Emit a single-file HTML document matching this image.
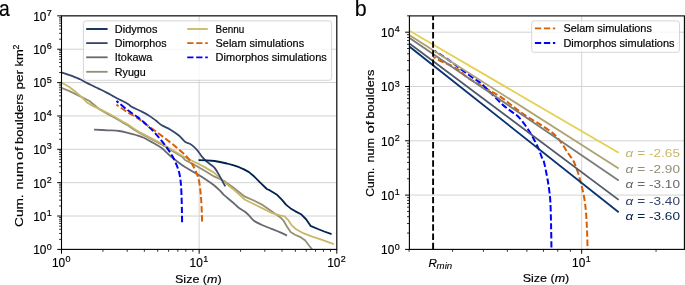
<!DOCTYPE html>
<html><head><meta charset="utf-8"><title>Boulder size-frequency distributions</title>
<style>
html,body{margin:0;padding:0;background:#fff;}
body{width:685px;height:285px;overflow:hidden;font-family:"Liberation Sans", sans-serif;}
svg{display:block;will-change:transform;}
.txt text{stroke-width:0.18px;}
</style></head><body>
<svg width="685" height="285" viewBox="0 0 685 285" font-family='"Liberation Sans", sans-serif'>
<defs><clipPath id="ca"><rect x="61.50" y="15.85" width="275.30" height="233.55"/></clipPath><clipPath id="cb"><rect x="409.40" y="15.90" width="275.00" height="233.50"/></clipPath></defs>
<rect x="0" y="0" width="685" height="285" fill="#fff"/>
<g class="gfx">
<line x1="61.50" y1="249.40" x2="336.80" y2="249.40" stroke="#d3d3d3" stroke-width="1.00"/>
<line x1="61.50" y1="216.04" x2="336.80" y2="216.04" stroke="#d3d3d3" stroke-width="1.00"/>
<line x1="61.50" y1="182.67" x2="336.80" y2="182.67" stroke="#d3d3d3" stroke-width="1.00"/>
<line x1="61.50" y1="149.31" x2="336.80" y2="149.31" stroke="#d3d3d3" stroke-width="1.00"/>
<line x1="61.50" y1="115.94" x2="336.80" y2="115.94" stroke="#d3d3d3" stroke-width="1.00"/>
<line x1="61.50" y1="82.58" x2="336.80" y2="82.58" stroke="#d3d3d3" stroke-width="1.00"/>
<line x1="61.50" y1="49.21" x2="336.80" y2="49.21" stroke="#d3d3d3" stroke-width="1.00"/>
<line x1="61.50" y1="15.85" x2="336.80" y2="15.85" stroke="#d3d3d3" stroke-width="1.00"/>
<line x1="61.50" y1="15.85" x2="61.50" y2="249.40" stroke="#d3d3d3" stroke-width="1.00"/>
<line x1="199.15" y1="15.85" x2="199.15" y2="249.40" stroke="#d3d3d3" stroke-width="1.00"/>
<line x1="336.80" y1="15.85" x2="336.80" y2="249.40" stroke="#d3d3d3" stroke-width="1.00"/>
<path d="M94.00,129.60 C96.33,129.72 103.78,130.07 108.00,130.30 C112.22,130.53 116.02,130.58 119.30,131.00 C122.58,131.42 124.90,132.13 127.70,132.80 C130.50,133.47 133.42,134.18 136.10,135.00 C138.78,135.82 141.07,136.45 143.80,137.70 C146.53,138.95 149.58,140.82 152.50,142.50 C155.42,144.18 158.37,145.60 161.30,147.80 C164.23,150.00 167.17,153.22 170.10,155.70 C173.03,158.18 176.42,160.82 178.90,162.70 C181.38,164.58 182.37,165.35 185.00,167.00 C187.63,168.65 191.48,170.70 194.70,172.60 C197.92,174.50 201.08,176.30 204.30,178.40 C207.52,180.50 211.43,183.20 214.00,185.20 C216.57,187.20 218.07,188.80 219.70,190.40 C221.33,192.00 221.65,192.83 223.80,194.80 C225.95,196.77 230.17,200.08 232.60,202.20 C235.03,204.32 236.33,205.90 238.40,207.50 C240.47,209.10 243.10,210.33 245.00,211.80 C246.90,213.27 248.30,214.80 249.80,216.30 C251.30,217.80 251.97,219.35 254.00,220.80 C256.03,222.25 259.08,223.67 262.00,225.00 C264.92,226.33 268.45,227.57 271.50,228.80 C274.55,230.03 277.72,231.27 280.30,232.40 C282.88,233.53 285.88,235.07 287.00,235.60" fill="none" stroke="#666970" stroke-width="1.80" stroke-linejoin="round" clip-path="url(#ca)"/>
<polyline points="61.3,87.8 69.0,90.9 76.1,94.4 81.7,97.1 89.5,101.0 99.0,109.0 108.0,114.2 115.0,117.9 122.0,122.1 128.0,125.5 133.3,129.2 140.0,133.3 150.5,138.8 161.0,144.1 171.6,150.4 182.1,156.7 185.0,160.0 194.7,164.9 204.3,170.6 214.0,176.4 223.8,180.8 232.6,187.0 241.4,194.0 245.0,196.7 253.8,200.5 262.5,204.9 271.3,211.1 280.1,217.2 283.6,220.7 287.1,226.8 290.6,232.1 295.0,234.7 301.0,237.4 305.3,240.5 308.4,244.7 312.6,250.0 315.0,253.0" fill="none" stroke="#948e77" stroke-width="1.80" stroke-linejoin="round" clip-path="url(#ca)"/>
<polyline points="61.3,82.5 69.0,86.7 76.1,92.3 81.7,97.1 87.2,102.6 94.3,106.6 101.0,109.6 108.0,113.3 115.0,117.0 122.0,121.2 128.0,124.6 133.3,128.3 140.0,132.4 150.5,137.9 161.0,143.2 171.6,149.5 182.1,155.8 194.7,162.0 204.3,166.9 214.0,172.6 223.8,181.7 232.6,188.7 241.4,196.5 245.0,199.8 253.8,204.0 262.5,208.4 271.3,212.8 280.1,215.4 284.5,216.3 288.0,219.8 291.5,225.1 295.8,229.0 303.2,233.2 311.6,236.3 322.1,239.9 333.8,244.1" fill="none" stroke="#c8b866" stroke-width="1.80" stroke-linejoin="round" clip-path="url(#ca)"/>
<path d="M61.30,72.30 C62.83,72.82 68.08,74.53 70.50,75.40 C72.92,76.27 74.03,76.77 75.80,77.50 C77.57,78.23 79.35,78.95 81.10,79.80 C82.85,80.65 84.55,81.68 86.30,82.60 C88.05,83.52 89.85,84.43 91.60,85.30 C93.35,86.17 95.40,87.13 96.80,87.80 C98.20,88.47 98.28,88.45 100.00,89.30 C101.72,90.15 104.93,91.77 107.10,92.90 C109.27,94.03 110.95,95.00 113.00,96.10 C115.05,97.20 116.90,98.20 119.40,99.50 C121.90,100.80 125.97,102.68 128.00,103.90 C130.03,105.12 129.60,105.65 131.60,106.80 C133.60,107.95 137.20,109.40 140.00,110.80 C142.80,112.20 145.77,113.58 148.40,115.20 C151.03,116.82 153.65,118.87 155.80,120.50 C157.95,122.13 158.92,123.52 161.30,125.00 C163.68,126.48 167.17,127.65 170.10,129.40 C173.03,131.15 176.42,133.45 178.90,135.50 C181.38,137.55 183.18,140.33 185.00,141.70 C186.82,143.07 188.35,142.88 189.80,143.70 C191.25,144.52 192.57,145.63 193.70,146.60 C194.83,147.57 195.63,148.38 196.60,149.50 C197.57,150.62 198.53,152.02 199.50,153.30 C200.47,154.58 201.28,155.90 202.40,157.20 C203.52,158.50 204.92,159.93 206.20,161.10 C207.48,162.27 208.70,163.08 210.10,164.20 C211.50,165.32 213.23,166.23 214.60,167.80 C215.97,169.37 217.07,171.50 218.30,173.60 C219.53,175.70 220.83,178.27 222.00,180.40 C223.17,182.53 224.75,185.40 225.30,186.40" fill="none" stroke="#35456c" stroke-width="1.80" stroke-linejoin="round" clip-path="url(#ca)"/>
<polyline points="198.5,160.2 207.0,160.3 214.6,161.0 220.0,162.0 226.9,163.5 233.0,165.2 239.1,167.2 244.0,169.4 249.0,172.1 254.5,176.8 260.0,182.4 266.8,189.0 270.0,190.4 276.6,194.4 281.8,199.6 286.2,204.9 290.6,208.4 295.0,211.1 301.0,214.2 306.3,219.5 310.5,225.8 317.9,229.0 324.2,231.5 331.6,234.2" fill="none" stroke="#00224e" stroke-width="1.80" stroke-linejoin="round" clip-path="url(#ca)"/>
<path d="M116.40,104.70 C118.23,105.93 123.82,109.82 127.40,112.10 C130.98,114.38 134.43,116.10 137.90,118.40 C141.37,120.70 144.88,123.48 148.20,125.90 C151.52,128.32 154.73,130.63 157.80,132.90 C160.87,135.17 163.67,137.23 166.60,139.50 C169.53,141.77 172.77,144.33 175.40,146.50 C178.03,148.67 180.63,150.92 182.40,152.50 C184.17,154.08 184.60,154.42 186.00,156.00 C187.40,157.58 189.47,160.08 190.80,162.00 C192.13,163.92 193.00,165.55 194.00,167.50 C195.00,169.45 196.00,171.62 196.80,173.70 C197.60,175.78 198.27,177.78 198.80,180.00 C199.33,182.22 199.70,184.83 200.00,187.00 C200.30,189.17 200.40,190.83 200.60,193.00 C200.80,195.17 201.00,196.83 201.20,200.00 C201.40,203.17 201.65,208.23 201.80,212.00 C201.95,215.77 202.05,220.83 202.10,222.60" fill="none" stroke="#d95f02" stroke-width="2.00" stroke-linejoin="round" stroke-dasharray="6.3,2.7" stroke-dashoffset="3.6" clip-path="url(#ca)"/>
<path d="M116.40,100.90 C118.23,102.42 123.82,107.25 127.40,110.00 C130.98,112.75 134.58,114.82 137.90,117.40 C141.22,119.98 144.57,123.02 147.30,125.50 C150.03,127.98 152.02,129.87 154.30,132.30 C156.58,134.73 158.88,137.52 161.00,140.10 C163.12,142.68 165.07,145.05 167.00,147.80 C168.93,150.55 170.97,153.65 172.60,156.60 C174.23,159.55 175.65,162.60 176.80,165.50 C177.95,168.40 178.83,171.08 179.50,174.00 C180.17,176.92 180.47,179.50 180.80,183.00 C181.13,186.50 181.32,190.50 181.50,195.00 C181.68,199.50 181.80,205.40 181.90,210.00 C182.00,214.60 182.07,220.50 182.10,222.60" fill="none" stroke="#0000ff" stroke-width="2.00" stroke-linejoin="round" stroke-dasharray="6.3,2.7" stroke-dashoffset="3.6" clip-path="url(#ca)"/>
<rect x="83.40" y="20.90" width="248.20" height="59.40" rx="2.5" ry="2.5" fill="#fff" fill-opacity="0.8" stroke="#cccccc" stroke-opacity="0.8" stroke-width="1"/>
<line x1="86.20" y1="29.00" x2="107.60" y2="29.00" stroke="#00224e" stroke-width="1.80"/>
<line x1="86.20" y1="43.10" x2="107.60" y2="43.10" stroke="#35456c" stroke-width="1.80"/>
<line x1="86.20" y1="57.30" x2="107.60" y2="57.30" stroke="#666970" stroke-width="1.80"/>
<line x1="86.20" y1="71.80" x2="107.60" y2="71.80" stroke="#948e77" stroke-width="1.80"/>
<line x1="187.20" y1="29.00" x2="207.80" y2="29.00" stroke="#c8b866" stroke-width="1.80"/>
<line x1="187.2" y1="43.10" x2="207.8" y2="43.10" stroke="#d95f02" stroke-width="1.80" stroke-dasharray="6.3,2.7"/>
<line x1="187.2" y1="57.30" x2="207.8" y2="57.30" stroke="#0000ff" stroke-width="1.80" stroke-dasharray="6.3,2.7"/>
<line x1="409.40" y1="249.40" x2="684.40" y2="249.40" stroke="#d3d3d3" stroke-width="1.00"/>
<line x1="409.40" y1="195.10" x2="684.40" y2="195.10" stroke="#d3d3d3" stroke-width="1.00"/>
<line x1="409.40" y1="140.80" x2="684.40" y2="140.80" stroke="#d3d3d3" stroke-width="1.00"/>
<line x1="409.40" y1="86.50" x2="684.40" y2="86.50" stroke="#d3d3d3" stroke-width="1.00"/>
<line x1="409.40" y1="32.20" x2="684.40" y2="32.20" stroke="#d3d3d3" stroke-width="1.00"/>
<line x1="581.70" y1="15.90" x2="581.70" y2="249.40" stroke="#d3d3d3" stroke-width="1.00"/>
<g clip-path="url(#cb)">
<path d="M433.30,57.10 C433.80,57.32 435.10,57.75 436.30,58.40 C437.50,59.05 438.92,60.20 440.50,61.00 C442.08,61.80 444.05,62.45 445.80,63.20 C447.55,63.95 449.25,64.62 451.00,65.50 C452.75,66.38 454.80,67.62 456.30,68.50 C457.80,69.38 458.20,69.33 460.00,70.80 C461.80,72.27 464.45,75.32 467.10,77.30 C469.75,79.28 473.42,81.22 475.90,82.70 C478.38,84.18 479.38,84.72 482.00,86.20 C484.62,87.68 488.25,89.65 491.60,91.60 C494.95,93.55 498.87,95.70 502.10,97.90 C505.33,100.10 507.93,102.45 511.00,104.80 C514.07,107.15 517.17,109.63 520.50,112.00 C523.83,114.37 527.48,116.78 531.00,119.00 C534.52,121.22 538.08,123.03 541.60,125.30 C545.12,127.57 549.30,130.33 552.10,132.60 C554.90,134.87 556.47,136.62 558.40,138.90 C560.33,141.18 562.12,143.95 563.70,146.30 C565.28,148.65 566.32,150.63 567.90,153.00 C569.48,155.37 571.62,157.50 573.20,160.50 C574.78,163.50 576.18,167.48 577.40,171.00 C578.62,174.52 579.45,177.60 580.50,181.60 C581.55,185.60 582.87,190.77 583.70,195.00 C584.53,199.23 585.03,202.83 585.50,207.00 C585.97,211.17 586.22,215.33 586.50,220.00 C586.78,224.67 587.02,229.67 587.20,235.00 C587.38,240.33 587.53,249.17 587.60,252.00" fill="none" stroke="#d95f02" stroke-width="2.00" stroke-linejoin="round" stroke-dasharray="6.3,2.7" stroke-dashoffset="3.6"/>
<path d="M434.30,50.60 C435.33,51.27 438.58,53.37 440.50,54.60 C442.42,55.83 444.05,56.80 445.80,58.00 C447.55,59.20 449.25,60.53 451.00,61.80 C452.75,63.07 454.80,64.47 456.30,65.60 C457.80,66.73 458.22,67.28 460.00,68.60 C461.78,69.92 464.67,71.83 467.00,73.50 C469.33,75.17 471.67,76.97 474.00,78.60 C476.33,80.23 478.07,80.78 481.00,83.30 C483.93,85.82 488.08,90.22 491.60,93.70 C495.12,97.18 499.03,101.40 502.10,104.20 C505.17,107.00 507.28,108.40 510.00,110.50 C512.72,112.60 515.60,113.98 518.40,116.80 C521.20,119.62 524.33,123.88 526.80,127.40 C529.27,130.92 531.27,134.40 533.20,137.90 C535.13,141.40 537.00,145.25 538.40,148.40 C539.80,151.55 540.72,154.70 541.60,156.80 C542.48,158.90 542.83,157.92 543.70,161.00 C544.57,164.08 545.93,170.82 546.80,175.30 C547.67,179.78 548.30,183.35 548.90,187.90 C549.50,192.45 550.03,196.15 550.40,202.60 C550.77,209.05 550.92,218.37 551.10,226.60 C551.28,234.83 551.43,247.77 551.50,252.00" fill="none" stroke="#0000ff" stroke-width="2.00" stroke-linejoin="round" stroke-dasharray="6.3,2.7" stroke-dashoffset="3.6"/>
<polyline points="407.4,29.6 618.7,152.7" fill="none" stroke="#e5cf52" stroke-width="1.80" stroke-linejoin="round"/>
<polyline points="407.4,33.8 618.7,168.5" fill="none" stroke="#aea371" stroke-width="1.80" stroke-linejoin="round"/>
<polyline points="407.4,36.5 618.7,180.5" fill="none" stroke="#7d7c78" stroke-width="1.80" stroke-linejoin="round"/>
<polyline points="407.4,42.0 618.7,199.9" fill="none" stroke="#4f576c" stroke-width="1.80" stroke-linejoin="round"/>
<polyline points="407.4,45.0 618.7,212.2" fill="none" stroke="#083370" stroke-width="1.80" stroke-linejoin="round"/>
<line x1="433.10" y1="15.90" x2="433.10" y2="249.40" stroke="#000" stroke-width="1.90" stroke-dasharray="6.46,2.7" stroke-dashoffset="2.21"/>
</g>
<rect x="531.70" y="20.90" width="147.80" height="31.40" rx="2.5" ry="2.5" fill="#fff" fill-opacity="0.8" stroke="#cccccc" stroke-opacity="0.8" stroke-width="1"/>
<line x1="534.9" y1="28.40" x2="555.2" y2="28.40" stroke="#d95f02" stroke-width="1.80" stroke-dasharray="6.3,2.7"/>
<line x1="534.9" y1="43.00" x2="555.2" y2="43.00" stroke="#0000ff" stroke-width="1.80" stroke-dasharray="6.3,2.7"/>
<rect x="61.50" y="15.85" width="275.30" height="233.55" fill="none" stroke="#000" stroke-width="1.10"/>
<line x1="57.20" y1="249.40" x2="61.50" y2="249.40" stroke="#000" stroke-width="1.00"/>
<line x1="59.10" y1="239.36" x2="61.50" y2="239.36" stroke="#000" stroke-width="0.80"/>
<line x1="59.10" y1="233.48" x2="61.50" y2="233.48" stroke="#000" stroke-width="0.80"/>
<line x1="59.10" y1="229.31" x2="61.50" y2="229.31" stroke="#000" stroke-width="0.80"/>
<line x1="59.10" y1="226.08" x2="61.50" y2="226.08" stroke="#000" stroke-width="0.80"/>
<line x1="59.10" y1="223.44" x2="61.50" y2="223.44" stroke="#000" stroke-width="0.80"/>
<line x1="59.10" y1="221.20" x2="61.50" y2="221.20" stroke="#000" stroke-width="0.80"/>
<line x1="59.10" y1="219.27" x2="61.50" y2="219.27" stroke="#000" stroke-width="0.80"/>
<line x1="59.10" y1="217.56" x2="61.50" y2="217.56" stroke="#000" stroke-width="0.80"/>
<line x1="57.20" y1="216.04" x2="61.50" y2="216.04" stroke="#000" stroke-width="1.00"/>
<line x1="59.10" y1="205.99" x2="61.50" y2="205.99" stroke="#000" stroke-width="0.80"/>
<line x1="59.10" y1="200.12" x2="61.50" y2="200.12" stroke="#000" stroke-width="0.80"/>
<line x1="59.10" y1="195.95" x2="61.50" y2="195.95" stroke="#000" stroke-width="0.80"/>
<line x1="59.10" y1="192.72" x2="61.50" y2="192.72" stroke="#000" stroke-width="0.80"/>
<line x1="59.10" y1="190.07" x2="61.50" y2="190.07" stroke="#000" stroke-width="0.80"/>
<line x1="59.10" y1="187.84" x2="61.50" y2="187.84" stroke="#000" stroke-width="0.80"/>
<line x1="59.10" y1="185.90" x2="61.50" y2="185.90" stroke="#000" stroke-width="0.80"/>
<line x1="59.10" y1="184.20" x2="61.50" y2="184.20" stroke="#000" stroke-width="0.80"/>
<line x1="57.20" y1="182.67" x2="61.50" y2="182.67" stroke="#000" stroke-width="1.00"/>
<line x1="59.10" y1="172.63" x2="61.50" y2="172.63" stroke="#000" stroke-width="0.80"/>
<line x1="59.10" y1="166.75" x2="61.50" y2="166.75" stroke="#000" stroke-width="0.80"/>
<line x1="59.10" y1="162.58" x2="61.50" y2="162.58" stroke="#000" stroke-width="0.80"/>
<line x1="59.10" y1="159.35" x2="61.50" y2="159.35" stroke="#000" stroke-width="0.80"/>
<line x1="59.10" y1="156.71" x2="61.50" y2="156.71" stroke="#000" stroke-width="0.80"/>
<line x1="59.10" y1="154.48" x2="61.50" y2="154.48" stroke="#000" stroke-width="0.80"/>
<line x1="59.10" y1="152.54" x2="61.50" y2="152.54" stroke="#000" stroke-width="0.80"/>
<line x1="59.10" y1="150.83" x2="61.50" y2="150.83" stroke="#000" stroke-width="0.80"/>
<line x1="57.20" y1="149.31" x2="61.50" y2="149.31" stroke="#000" stroke-width="1.00"/>
<line x1="59.10" y1="139.26" x2="61.50" y2="139.26" stroke="#000" stroke-width="0.80"/>
<line x1="59.10" y1="133.39" x2="61.50" y2="133.39" stroke="#000" stroke-width="0.80"/>
<line x1="59.10" y1="129.22" x2="61.50" y2="129.22" stroke="#000" stroke-width="0.80"/>
<line x1="59.10" y1="125.99" x2="61.50" y2="125.99" stroke="#000" stroke-width="0.80"/>
<line x1="59.10" y1="123.34" x2="61.50" y2="123.34" stroke="#000" stroke-width="0.80"/>
<line x1="59.10" y1="121.11" x2="61.50" y2="121.11" stroke="#000" stroke-width="0.80"/>
<line x1="59.10" y1="119.18" x2="61.50" y2="119.18" stroke="#000" stroke-width="0.80"/>
<line x1="59.10" y1="117.47" x2="61.50" y2="117.47" stroke="#000" stroke-width="0.80"/>
<line x1="57.20" y1="115.94" x2="61.50" y2="115.94" stroke="#000" stroke-width="1.00"/>
<line x1="59.10" y1="105.90" x2="61.50" y2="105.90" stroke="#000" stroke-width="0.80"/>
<line x1="59.10" y1="100.02" x2="61.50" y2="100.02" stroke="#000" stroke-width="0.80"/>
<line x1="59.10" y1="95.86" x2="61.50" y2="95.86" stroke="#000" stroke-width="0.80"/>
<line x1="59.10" y1="92.62" x2="61.50" y2="92.62" stroke="#000" stroke-width="0.80"/>
<line x1="59.10" y1="89.98" x2="61.50" y2="89.98" stroke="#000" stroke-width="0.80"/>
<line x1="59.10" y1="87.75" x2="61.50" y2="87.75" stroke="#000" stroke-width="0.80"/>
<line x1="59.10" y1="85.81" x2="61.50" y2="85.81" stroke="#000" stroke-width="0.80"/>
<line x1="59.10" y1="84.11" x2="61.50" y2="84.11" stroke="#000" stroke-width="0.80"/>
<line x1="57.20" y1="82.58" x2="61.50" y2="82.58" stroke="#000" stroke-width="1.00"/>
<line x1="59.10" y1="72.53" x2="61.50" y2="72.53" stroke="#000" stroke-width="0.80"/>
<line x1="59.10" y1="66.66" x2="61.50" y2="66.66" stroke="#000" stroke-width="0.80"/>
<line x1="59.10" y1="62.49" x2="61.50" y2="62.49" stroke="#000" stroke-width="0.80"/>
<line x1="59.10" y1="59.26" x2="61.50" y2="59.26" stroke="#000" stroke-width="0.80"/>
<line x1="59.10" y1="56.62" x2="61.50" y2="56.62" stroke="#000" stroke-width="0.80"/>
<line x1="59.10" y1="54.38" x2="61.50" y2="54.38" stroke="#000" stroke-width="0.80"/>
<line x1="59.10" y1="52.45" x2="61.50" y2="52.45" stroke="#000" stroke-width="0.80"/>
<line x1="59.10" y1="50.74" x2="61.50" y2="50.74" stroke="#000" stroke-width="0.80"/>
<line x1="57.20" y1="49.21" x2="61.50" y2="49.21" stroke="#000" stroke-width="1.00"/>
<line x1="59.10" y1="39.17" x2="61.50" y2="39.17" stroke="#000" stroke-width="0.80"/>
<line x1="59.10" y1="33.30" x2="61.50" y2="33.30" stroke="#000" stroke-width="0.80"/>
<line x1="59.10" y1="29.13" x2="61.50" y2="29.13" stroke="#000" stroke-width="0.80"/>
<line x1="59.10" y1="25.89" x2="61.50" y2="25.89" stroke="#000" stroke-width="0.80"/>
<line x1="59.10" y1="23.25" x2="61.50" y2="23.25" stroke="#000" stroke-width="0.80"/>
<line x1="59.10" y1="21.02" x2="61.50" y2="21.02" stroke="#000" stroke-width="0.80"/>
<line x1="59.10" y1="19.08" x2="61.50" y2="19.08" stroke="#000" stroke-width="0.80"/>
<line x1="59.10" y1="17.38" x2="61.50" y2="17.38" stroke="#000" stroke-width="0.80"/>
<line x1="57.20" y1="15.85" x2="61.50" y2="15.85" stroke="#000" stroke-width="1.00"/>
<line x1="61.50" y1="249.40" x2="61.50" y2="253.70" stroke="#000" stroke-width="1.00"/>
<line x1="102.94" y1="249.40" x2="102.94" y2="251.80" stroke="#000" stroke-width="0.80"/>
<line x1="127.18" y1="249.40" x2="127.18" y2="251.80" stroke="#000" stroke-width="0.80"/>
<line x1="144.37" y1="249.40" x2="144.37" y2="251.80" stroke="#000" stroke-width="0.80"/>
<line x1="157.71" y1="249.40" x2="157.71" y2="251.80" stroke="#000" stroke-width="0.80"/>
<line x1="168.61" y1="249.40" x2="168.61" y2="251.80" stroke="#000" stroke-width="0.80"/>
<line x1="177.83" y1="249.40" x2="177.83" y2="251.80" stroke="#000" stroke-width="0.80"/>
<line x1="185.81" y1="249.40" x2="185.81" y2="251.80" stroke="#000" stroke-width="0.80"/>
<line x1="192.85" y1="249.40" x2="192.85" y2="251.80" stroke="#000" stroke-width="0.80"/>
<line x1="199.15" y1="249.40" x2="199.15" y2="253.70" stroke="#000" stroke-width="1.00"/>
<line x1="240.59" y1="249.40" x2="240.59" y2="251.80" stroke="#000" stroke-width="0.80"/>
<line x1="264.83" y1="249.40" x2="264.83" y2="251.80" stroke="#000" stroke-width="0.80"/>
<line x1="282.02" y1="249.40" x2="282.02" y2="251.80" stroke="#000" stroke-width="0.80"/>
<line x1="295.36" y1="249.40" x2="295.36" y2="251.80" stroke="#000" stroke-width="0.80"/>
<line x1="306.26" y1="249.40" x2="306.26" y2="251.80" stroke="#000" stroke-width="0.80"/>
<line x1="315.48" y1="249.40" x2="315.48" y2="251.80" stroke="#000" stroke-width="0.80"/>
<line x1="323.46" y1="249.40" x2="323.46" y2="251.80" stroke="#000" stroke-width="0.80"/>
<line x1="330.50" y1="249.40" x2="330.50" y2="251.80" stroke="#000" stroke-width="0.80"/>
<line x1="336.80" y1="249.40" x2="336.80" y2="253.70" stroke="#000" stroke-width="1.00"/>
<rect x="409.40" y="15.90" width="275.00" height="233.50" fill="none" stroke="#000" stroke-width="1.10"/>
<line x1="405.10" y1="249.40" x2="409.40" y2="249.40" stroke="#000" stroke-width="1.00"/>
<line x1="407.00" y1="233.05" x2="409.40" y2="233.05" stroke="#000" stroke-width="0.80"/>
<line x1="407.00" y1="223.49" x2="409.40" y2="223.49" stroke="#000" stroke-width="0.80"/>
<line x1="407.00" y1="216.71" x2="409.40" y2="216.71" stroke="#000" stroke-width="0.80"/>
<line x1="407.00" y1="211.45" x2="409.40" y2="211.45" stroke="#000" stroke-width="0.80"/>
<line x1="407.00" y1="207.15" x2="409.40" y2="207.15" stroke="#000" stroke-width="0.80"/>
<line x1="407.00" y1="203.51" x2="409.40" y2="203.51" stroke="#000" stroke-width="0.80"/>
<line x1="407.00" y1="200.36" x2="409.40" y2="200.36" stroke="#000" stroke-width="0.80"/>
<line x1="407.00" y1="197.58" x2="409.40" y2="197.58" stroke="#000" stroke-width="0.80"/>
<line x1="405.10" y1="195.10" x2="409.40" y2="195.10" stroke="#000" stroke-width="1.00"/>
<line x1="407.00" y1="178.75" x2="409.40" y2="178.75" stroke="#000" stroke-width="0.80"/>
<line x1="407.00" y1="169.19" x2="409.40" y2="169.19" stroke="#000" stroke-width="0.80"/>
<line x1="407.00" y1="162.41" x2="409.40" y2="162.41" stroke="#000" stroke-width="0.80"/>
<line x1="407.00" y1="157.15" x2="409.40" y2="157.15" stroke="#000" stroke-width="0.80"/>
<line x1="407.00" y1="152.85" x2="409.40" y2="152.85" stroke="#000" stroke-width="0.80"/>
<line x1="407.00" y1="149.21" x2="409.40" y2="149.21" stroke="#000" stroke-width="0.80"/>
<line x1="407.00" y1="146.06" x2="409.40" y2="146.06" stroke="#000" stroke-width="0.80"/>
<line x1="407.00" y1="143.28" x2="409.40" y2="143.28" stroke="#000" stroke-width="0.80"/>
<line x1="405.10" y1="140.80" x2="409.40" y2="140.80" stroke="#000" stroke-width="1.00"/>
<line x1="407.00" y1="124.45" x2="409.40" y2="124.45" stroke="#000" stroke-width="0.80"/>
<line x1="407.00" y1="114.89" x2="409.40" y2="114.89" stroke="#000" stroke-width="0.80"/>
<line x1="407.00" y1="108.11" x2="409.40" y2="108.11" stroke="#000" stroke-width="0.80"/>
<line x1="407.00" y1="102.85" x2="409.40" y2="102.85" stroke="#000" stroke-width="0.80"/>
<line x1="407.00" y1="98.55" x2="409.40" y2="98.55" stroke="#000" stroke-width="0.80"/>
<line x1="407.00" y1="94.91" x2="409.40" y2="94.91" stroke="#000" stroke-width="0.80"/>
<line x1="407.00" y1="91.76" x2="409.40" y2="91.76" stroke="#000" stroke-width="0.80"/>
<line x1="407.00" y1="88.98" x2="409.40" y2="88.98" stroke="#000" stroke-width="0.80"/>
<line x1="405.10" y1="86.50" x2="409.40" y2="86.50" stroke="#000" stroke-width="1.00"/>
<line x1="407.00" y1="70.15" x2="409.40" y2="70.15" stroke="#000" stroke-width="0.80"/>
<line x1="407.00" y1="60.59" x2="409.40" y2="60.59" stroke="#000" stroke-width="0.80"/>
<line x1="407.00" y1="53.81" x2="409.40" y2="53.81" stroke="#000" stroke-width="0.80"/>
<line x1="407.00" y1="48.55" x2="409.40" y2="48.55" stroke="#000" stroke-width="0.80"/>
<line x1="407.00" y1="44.25" x2="409.40" y2="44.25" stroke="#000" stroke-width="0.80"/>
<line x1="407.00" y1="40.61" x2="409.40" y2="40.61" stroke="#000" stroke-width="0.80"/>
<line x1="407.00" y1="37.46" x2="409.40" y2="37.46" stroke="#000" stroke-width="0.80"/>
<line x1="407.00" y1="34.68" x2="409.40" y2="34.68" stroke="#000" stroke-width="0.80"/>
<line x1="405.10" y1="32.20" x2="409.40" y2="32.20" stroke="#000" stroke-width="1.00"/>
<line x1="407.00" y1="15.85" x2="409.40" y2="15.85" stroke="#000" stroke-width="0.80"/>
<line x1="581.70" y1="249.40" x2="581.70" y2="253.70" stroke="#000" stroke-width="1.00"/>
<line x1="409.05" y1="249.40" x2="409.05" y2="251.80" stroke="#000" stroke-width="0.80"/>
<line x1="452.55" y1="249.40" x2="452.55" y2="251.80" stroke="#000" stroke-width="0.80"/>
<line x1="483.41" y1="249.40" x2="483.41" y2="251.80" stroke="#000" stroke-width="0.80"/>
<line x1="507.35" y1="249.40" x2="507.35" y2="251.80" stroke="#000" stroke-width="0.80"/>
<line x1="526.90" y1="249.40" x2="526.90" y2="251.80" stroke="#000" stroke-width="0.80"/>
<line x1="543.44" y1="249.40" x2="543.44" y2="251.80" stroke="#000" stroke-width="0.80"/>
<line x1="557.76" y1="249.40" x2="557.76" y2="251.80" stroke="#000" stroke-width="0.80"/>
<line x1="570.40" y1="249.40" x2="570.40" y2="251.80" stroke="#000" stroke-width="0.80"/>
<line x1="656.05" y1="249.40" x2="656.05" y2="251.80" stroke="#000" stroke-width="0.80"/>
</g>
<g class="txt" stroke="#000">
<text x="33.20" y="254.30" font-size="12.20" fill="#000" stroke="#000" text-anchor="start" textLength="13.20" lengthAdjust="spacingAndGlyphs">10</text>
<text x="46.80" y="249.50" font-size="8.50" fill="#000" stroke="#000" text-anchor="start" textLength="5.00" lengthAdjust="spacingAndGlyphs">0</text>
<text x="33.20" y="220.94" font-size="12.20" fill="#000" stroke="#000" text-anchor="start" textLength="13.20" lengthAdjust="spacingAndGlyphs">10</text>
<text x="46.80" y="216.14" font-size="8.50" fill="#000" stroke="#000" text-anchor="start" textLength="5.00" lengthAdjust="spacingAndGlyphs">1</text>
<text x="33.20" y="187.57" font-size="12.20" fill="#000" stroke="#000" text-anchor="start" textLength="13.20" lengthAdjust="spacingAndGlyphs">10</text>
<text x="46.80" y="182.77" font-size="8.50" fill="#000" stroke="#000" text-anchor="start" textLength="5.00" lengthAdjust="spacingAndGlyphs">2</text>
<text x="33.20" y="154.21" font-size="12.20" fill="#000" stroke="#000" text-anchor="start" textLength="13.20" lengthAdjust="spacingAndGlyphs">10</text>
<text x="46.80" y="149.41" font-size="8.50" fill="#000" stroke="#000" text-anchor="start" textLength="5.00" lengthAdjust="spacingAndGlyphs">3</text>
<text x="33.20" y="120.84" font-size="12.20" fill="#000" stroke="#000" text-anchor="start" textLength="13.20" lengthAdjust="spacingAndGlyphs">10</text>
<text x="46.80" y="116.04" font-size="8.50" fill="#000" stroke="#000" text-anchor="start" textLength="5.00" lengthAdjust="spacingAndGlyphs">4</text>
<text x="33.20" y="87.48" font-size="12.20" fill="#000" stroke="#000" text-anchor="start" textLength="13.20" lengthAdjust="spacingAndGlyphs">10</text>
<text x="46.80" y="82.68" font-size="8.50" fill="#000" stroke="#000" text-anchor="start" textLength="5.00" lengthAdjust="spacingAndGlyphs">5</text>
<text x="33.20" y="54.11" font-size="12.20" fill="#000" stroke="#000" text-anchor="start" textLength="13.20" lengthAdjust="spacingAndGlyphs">10</text>
<text x="46.80" y="49.31" font-size="8.50" fill="#000" stroke="#000" text-anchor="start" textLength="5.00" lengthAdjust="spacingAndGlyphs">6</text>
<text x="33.20" y="20.75" font-size="12.20" fill="#000" stroke="#000" text-anchor="start" textLength="13.20" lengthAdjust="spacingAndGlyphs">10</text>
<text x="46.80" y="15.95" font-size="8.50" fill="#000" stroke="#000" text-anchor="start" textLength="5.00" lengthAdjust="spacingAndGlyphs">7</text>
<text x="51.90" y="267.10" font-size="12.20" fill="#000" stroke="#000" text-anchor="start" textLength="13.20" lengthAdjust="spacingAndGlyphs">10</text>
<text x="65.50" y="262.30" font-size="8.50" fill="#000" stroke="#000" text-anchor="start" textLength="5.00" lengthAdjust="spacingAndGlyphs">0</text>
<text x="189.55" y="267.10" font-size="12.20" fill="#000" stroke="#000" text-anchor="start" textLength="13.20" lengthAdjust="spacingAndGlyphs">10</text>
<text x="203.15" y="262.30" font-size="8.50" fill="#000" stroke="#000" text-anchor="start" textLength="5.00" lengthAdjust="spacingAndGlyphs">1</text>
<text x="327.20" y="267.10" font-size="12.20" fill="#000" stroke="#000" text-anchor="start" textLength="13.20" lengthAdjust="spacingAndGlyphs">10</text>
<text x="340.80" y="262.30" font-size="8.50" fill="#000" stroke="#000" text-anchor="start" textLength="5.00" lengthAdjust="spacingAndGlyphs">2</text>
<text x="381.10" y="254.30" font-size="12.20" fill="#000" stroke="#000" text-anchor="start" textLength="13.20" lengthAdjust="spacingAndGlyphs">10</text>
<text x="394.70" y="249.50" font-size="8.50" fill="#000" stroke="#000" text-anchor="start" textLength="5.00" lengthAdjust="spacingAndGlyphs">0</text>
<text x="381.10" y="200.00" font-size="12.20" fill="#000" stroke="#000" text-anchor="start" textLength="13.20" lengthAdjust="spacingAndGlyphs">10</text>
<text x="394.70" y="195.20" font-size="8.50" fill="#000" stroke="#000" text-anchor="start" textLength="5.00" lengthAdjust="spacingAndGlyphs">1</text>
<text x="381.10" y="145.70" font-size="12.20" fill="#000" stroke="#000" text-anchor="start" textLength="13.20" lengthAdjust="spacingAndGlyphs">10</text>
<text x="394.70" y="140.90" font-size="8.50" fill="#000" stroke="#000" text-anchor="start" textLength="5.00" lengthAdjust="spacingAndGlyphs">2</text>
<text x="381.10" y="91.40" font-size="12.20" fill="#000" stroke="#000" text-anchor="start" textLength="13.20" lengthAdjust="spacingAndGlyphs">10</text>
<text x="394.70" y="86.60" font-size="8.50" fill="#000" stroke="#000" text-anchor="start" textLength="5.00" lengthAdjust="spacingAndGlyphs">3</text>
<text x="381.10" y="37.10" font-size="12.20" fill="#000" stroke="#000" text-anchor="start" textLength="13.20" lengthAdjust="spacingAndGlyphs">10</text>
<text x="394.70" y="32.30" font-size="8.50" fill="#000" stroke="#000" text-anchor="start" textLength="5.00" lengthAdjust="spacingAndGlyphs">4</text>
<text x="572.10" y="267.10" font-size="12.20" fill="#000" stroke="#000" text-anchor="start" textLength="13.20" lengthAdjust="spacingAndGlyphs">10</text>
<text x="585.70" y="262.30" font-size="8.50" fill="#000" stroke="#000" text-anchor="start" textLength="5.00" lengthAdjust="spacingAndGlyphs">1</text>
<text x="175.00" y="283.40" font-size="11.80" fill="#000" stroke="#000" text-anchor="start" textLength="46.60" lengthAdjust="spacingAndGlyphs">Size (<tspan font-style="italic">m</tspan>)</text>
<text x="522.70" y="282.20" font-size="11.80" fill="#000" stroke="#000" text-anchor="start" textLength="46.60" lengthAdjust="spacingAndGlyphs">Size (<tspan font-style="italic">m</tspan>)</text>
<text transform="translate(23.30,226.90) rotate(-90)" font-size="11.80" textLength="32.50" lengthAdjust="spacingAndGlyphs">Cum.</text>
<text transform="translate(23.30,189.60) rotate(-90)" font-size="11.80" textLength="27.70" lengthAdjust="spacingAndGlyphs">num</text>
<text transform="translate(23.30,159.90) rotate(-90)" font-size="11.80" textLength="13.00" lengthAdjust="spacingAndGlyphs">of</text>
<text transform="translate(23.30,144.10) rotate(-90)" font-size="11.80" textLength="50.20" lengthAdjust="spacingAndGlyphs">boulders</text>
<text transform="translate(23.30,89.60) rotate(-90)" font-size="11.80" textLength="19.70" lengthAdjust="spacingAndGlyphs">per</text>
<text transform="translate(23.30,66.50) rotate(-90)" font-size="11.80" textLength="17.30" lengthAdjust="spacingAndGlyphs">km</text>
<text transform="translate(18.9,49.4) rotate(-90)" font-size="8.8">2</text>
<text transform="translate(374.40,196.70) rotate(-90)" font-size="11.80" textLength="29.00" lengthAdjust="spacingAndGlyphs">Cum.</text>
<text transform="translate(374.40,162.60) rotate(-90)" font-size="11.80" textLength="24.80" lengthAdjust="spacingAndGlyphs">num</text>
<text transform="translate(374.40,133.20) rotate(-90)" font-size="11.80" textLength="12.00" lengthAdjust="spacingAndGlyphs">of</text>
<text transform="translate(374.40,118.50) rotate(-90)" font-size="11.80" textLength="48.90" lengthAdjust="spacingAndGlyphs">boulders</text>
<text x="428.5" y="267.2" font-size="11.6" font-style="italic">R</text>
<text x="436.6" y="269.3" font-size="8.4" font-style="italic" style="stroke-width:0.1px" textLength="15.6" lengthAdjust="spacingAndGlyphs">min</text>
<text x="114.80" y="32.70" font-size="10.40" fill="#000" stroke="#000" text-anchor="start" textLength="42.60" lengthAdjust="spacingAndGlyphs">Didymos</text>
<text x="114.80" y="46.80" font-size="10.40" fill="#000" stroke="#000" text-anchor="start" textLength="51.80" lengthAdjust="spacingAndGlyphs">Dimorphos</text>
<text x="114.80" y="61.00" font-size="10.40" fill="#000" stroke="#000" text-anchor="start" textLength="37.60" lengthAdjust="spacingAndGlyphs">Itokawa</text>
<text x="114.80" y="75.50" font-size="10.40" fill="#000" stroke="#000" text-anchor="start" textLength="31.00" lengthAdjust="spacingAndGlyphs">Ryugu</text>
<text x="215.60" y="32.70" font-size="10.40" fill="#000" stroke="#000" text-anchor="start" textLength="28.60" lengthAdjust="spacingAndGlyphs">Bennu</text>
<text x="215.60" y="46.80" font-size="10.40" fill="#000" stroke="#000" text-anchor="start" textLength="88.50" lengthAdjust="spacingAndGlyphs">Selam simulations</text>
<text x="215.60" y="61.00" font-size="10.40" fill="#000" stroke="#000" text-anchor="start" textLength="111.20" lengthAdjust="spacingAndGlyphs">Dimorphos simulations</text>
<text x="563.40" y="32.10" font-size="10.40" fill="#000" stroke="#000" text-anchor="start" textLength="88.50" lengthAdjust="spacingAndGlyphs">Selam simulations</text>
<text x="563.40" y="46.70" font-size="10.40" fill="#000" stroke="#000" text-anchor="start" textLength="111.20" lengthAdjust="spacingAndGlyphs">Dimorphos simulations</text>
<text x="625.6" y="156.80" font-size="11.8" fill="#c8b866" stroke="none" textLength="54.4" lengthAdjust="spacingAndGlyphs"><tspan font-style="italic">&#945;</tspan> = -2.65</text>
<text x="625.6" y="173.10" font-size="11.8" fill="#948e77" stroke="none" textLength="54.4" lengthAdjust="spacingAndGlyphs"><tspan font-style="italic">&#945;</tspan> = -2.90</text>
<text x="625.6" y="187.90" font-size="11.8" fill="#666970" stroke="none" textLength="54.4" lengthAdjust="spacingAndGlyphs"><tspan font-style="italic">&#945;</tspan> = -3.10</text>
<text x="625.6" y="205.00" font-size="11.8" fill="#35456c" stroke="none" textLength="54.4" lengthAdjust="spacingAndGlyphs"><tspan font-style="italic">&#945;</tspan> = -3.40</text>
<text x="625.6" y="220.10" font-size="11.8" fill="#00224e" stroke="none" textLength="54.4" lengthAdjust="spacingAndGlyphs"><tspan font-style="italic">&#945;</tspan> = -3.60</text>
<text transform="translate(-0.9,16.1) scale(0.86,1)" font-size="22.4" style="stroke-width:0.2px">a</text>
<text x="354.70" y="16.10" font-size="21.50" fill="#000" stroke="#000" text-anchor="start" style="stroke-width:0.1px">b</text>
</g>
</svg>
</body></html>
